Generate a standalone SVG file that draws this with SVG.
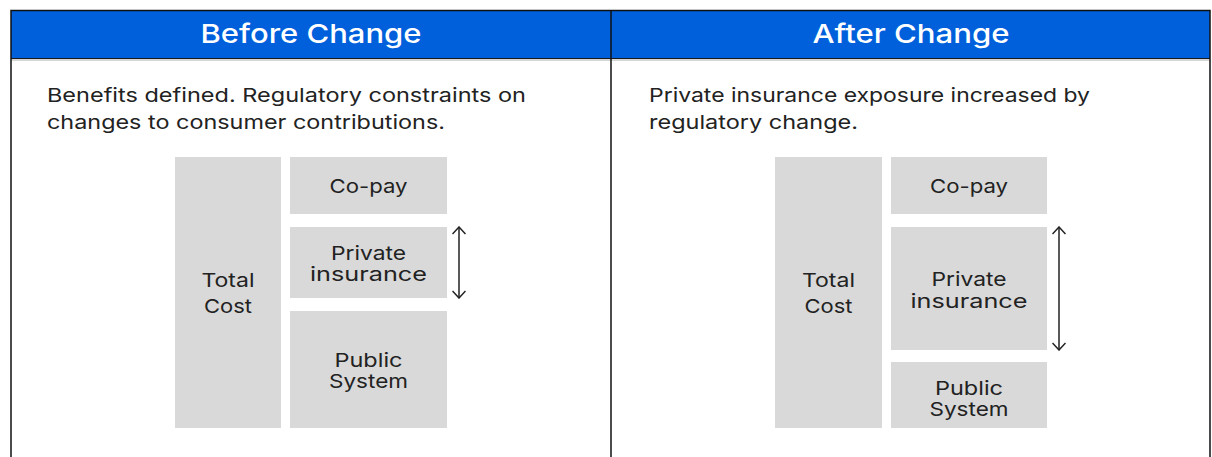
<svg xmlns="http://www.w3.org/2000/svg" width="1212" height="457" viewBox="0 0 1212 457">
  <defs>
    <style>
      .hdr { fill: #0060dc; }
      .hdr-text { font-family: Inter, "Noto Sans", sans-serif; font-size: 26px; font-weight: 500; fill: #ffffff; text-anchor: middle; }
      .desc { font-family: Inter, "Noto Sans", sans-serif; font-size: 19px; fill: #222222; }
      .block { fill: #d9d9d9; }
      .lbl { font-family: Inter, "Noto Sans", sans-serif; font-size: 19px; fill: #222222; text-anchor: middle; }
      .frame { fill: none; stroke: #111111; stroke-width: 1.5; }
      .range { stroke: #222222; stroke-width: 1.5; fill: none; }
    </style>
    <!-- open chevron head, drawn along +x so it follows the line direction -->
    <marker id="chev" viewBox="0 0 9 14" refX="8" refY="7" markerWidth="9" markerHeight="14" markerUnits="userSpaceOnUse" orient="auto-start-reverse">
      <path d="M1,0.5 L8,7 L1,13.5" fill="none" stroke="#222222" stroke-width="1.5"/>
    </marker>
  </defs>

  <rect width="1212" height="457" fill="#ffffff"/>

  <!-- header bands -->
  <rect class="hdr" x="11" y="11" width="1199" height="47"/>
  <line x1="11" y1="60" x2="1210" y2="60" stroke="#c8c8c8" stroke-width="1.5"/>
  <line x1="11" y1="58.5" x2="1210" y2="58.5" stroke="#1a1a1a" stroke-width="1.2"/>

  <!-- table frame -->
  <path class="frame" d="M11,457 V10.5 H1210 V457"/>
  <line class="frame" x1="611" y1="10.5" x2="611" y2="457"/>

  <text class="hdr-text" x="311" y="43" textLength="221" lengthAdjust="spacingAndGlyphs">Before Change</text>
  <text class="hdr-text" x="911" y="43" textLength="197" lengthAdjust="spacingAndGlyphs">After Change</text>

  <!-- descriptions -->
  <text class="desc" x="47" y="102" textLength="479" lengthAdjust="spacingAndGlyphs">Benefits defined. Regulatory constraints on</text>
  <text class="desc" x="47" y="129" textLength="398" lengthAdjust="spacingAndGlyphs">changes to consumer contributions.</text>
  <text class="desc" x="649" y="102" textLength="441" lengthAdjust="spacingAndGlyphs">Private insurance exposure increased by</text>
  <text class="desc" x="649" y="129" textLength="209" lengthAdjust="spacingAndGlyphs">regulatory change.</text>

  <!-- before change: cost split -->
  <g id="before-total">
    <rect class="block" x="175" y="157" width="106" height="271"/>
    <text class="lbl" x="228" y="287" textLength="53" lengthAdjust="spacingAndGlyphs">Total</text>
    <text class="lbl" x="228" y="313" textLength="48" lengthAdjust="spacingAndGlyphs">Cost</text>
  </g>
  <g id="before-copay">
    <rect class="block" x="290" y="157" width="157" height="57"/>
    <text class="lbl" x="368.5" y="193" textLength="78" lengthAdjust="spacingAndGlyphs">Co-pay</text>
  </g>
  <g id="before-private">
    <rect class="block" x="290" y="227" width="157" height="71"/>
    <text class="lbl" x="368.5" y="260" textLength="75" lengthAdjust="spacingAndGlyphs">Private</text>
    <text class="lbl" x="368.5" y="281" textLength="117" lengthAdjust="spacingAndGlyphs">insurance</text>
  </g>
  <g id="before-public">
    <rect class="block" x="290" y="311" width="157" height="117"/>
    <text class="lbl" x="368.5" y="367" textLength="68" lengthAdjust="spacingAndGlyphs">Public</text>
    <text class="lbl" x="368.5" y="388" textLength="79" lengthAdjust="spacingAndGlyphs">System</text>
  </g>

  <!-- after change: cost split -->
  <g id="after-total">
    <rect class="block" x="775" y="157" width="107" height="271"/>
    <text class="lbl" x="828.5" y="287" textLength="53" lengthAdjust="spacingAndGlyphs">Total</text>
    <text class="lbl" x="828.5" y="313" textLength="48" lengthAdjust="spacingAndGlyphs">Cost</text>
  </g>
  <g id="after-copay">
    <rect class="block" x="891" y="157" width="156" height="57"/>
    <text class="lbl" x="969" y="193" textLength="78" lengthAdjust="spacingAndGlyphs">Co-pay</text>
  </g>
  <g id="after-private">
    <rect class="block" x="891" y="227" width="156" height="123"/>
    <text class="lbl" x="969" y="286" textLength="75" lengthAdjust="spacingAndGlyphs">Private</text>
    <text class="lbl" x="969" y="308" textLength="117" lengthAdjust="spacingAndGlyphs">insurance</text>
  </g>
  <g id="after-public">
    <rect class="block" x="891" y="362" width="156" height="66"/>
    <text class="lbl" x="969" y="395" textLength="68" lengthAdjust="spacingAndGlyphs">Public</text>
    <text class="lbl" x="969" y="416" textLength="79" lengthAdjust="spacingAndGlyphs">System</text>
  </g>

  <!-- range indicators -->
  <g id="connectors">
    <line class="range" x1="459" y1="227" x2="459" y2="298" marker-start="url(#chev)" marker-end="url(#chev)"/>
    <line class="range" x1="1059" y1="227" x2="1059" y2="350" marker-start="url(#chev)" marker-end="url(#chev)"/>
  </g>
</svg>
